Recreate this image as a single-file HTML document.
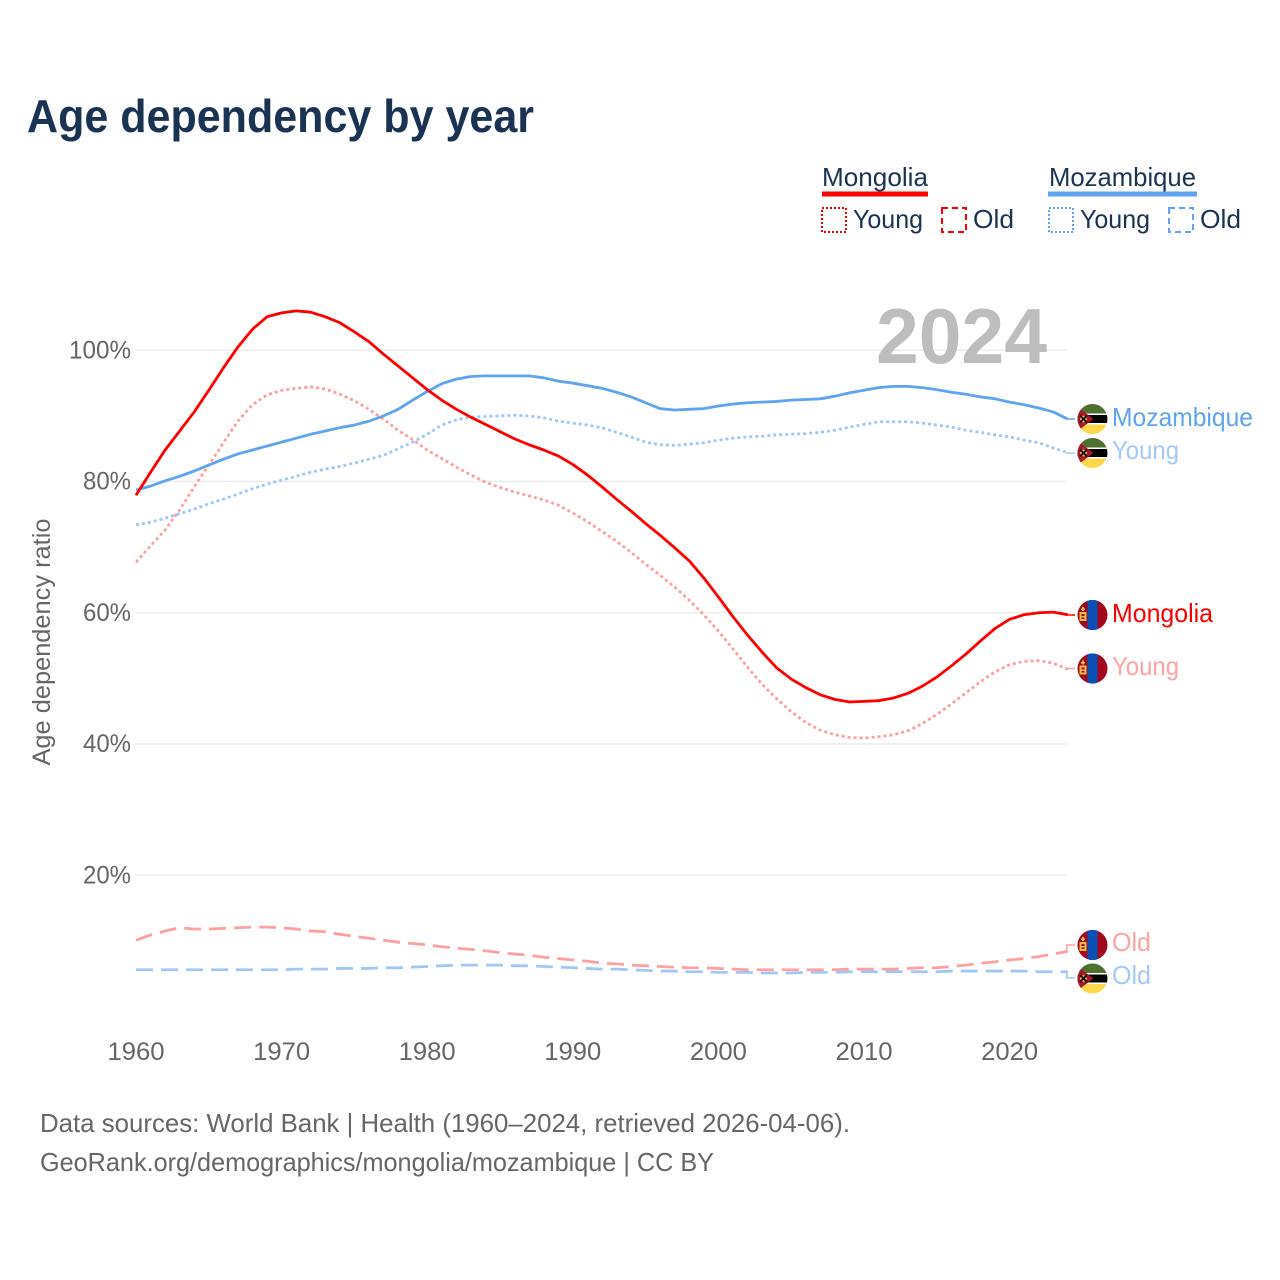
<!DOCTYPE html>
<html lang="en">
<head>
<meta charset="utf-8">
<title>Age dependency by year</title>
<style>
html,body{margin:0;padding:0;background:#fff}
svg{display:block}
text{font-family:"Liberation Sans",sans-serif}
.tick{font-size:25px;fill:#666}
.leg{font-size:26px;fill:#1a3353}
.foot{font-size:26px;fill:#666}
.lab{font-size:26px}
</style>
</head>
<body>
<svg id="chart" width="1280" height="1280" viewBox="0 0 1280 1280" xmlns="http://www.w3.org/2000/svg">
<defs>
<clipPath id="flagClip"><circle cx="0" cy="0" r="15"/></clipPath>
<symbol id="flag-mn" overflow="visible">
<g clip-path="url(#flagClip)">
<rect x="-15" y="-15" width="30" height="30" fill="#a0081f"/>
<rect x="-5" y="-15" width="10" height="30" fill="#0a50b4"/>
<rect x="-13" y="-3" width="7" height="9" fill="#f0bc40"/>
<rect x="-11" y="-1" width="3" height="2" fill="#a0081f"/>
<rect x="-11" y="2.5" width="3" height="1.5" fill="#a0081f"/>
<rect x="-10.5" y="-8" width="2" height="4" fill="#f0bc40"/>
<rect x="-11.5" y="-6.5" width="4" height="1.5" fill="#f0bc40"/>
</g>
</symbol>
<symbol id="flag-mz" overflow="visible">
<g clip-path="url(#flagClip)">
<rect x="-15" y="-15" width="30" height="9.5" fill="#4d7030"/>
<rect x="-15" y="-5.5" width="30" height="1.5" fill="#fff"/>
<rect x="-15" y="-4" width="30" height="8" fill="#000"/>
<rect x="-15" y="4" width="30" height="1.5" fill="#fff"/>
<rect x="-15" y="5.5" width="30" height="9.5" fill="#fcd84a"/>
<polygon points="-15,-12 1,0 -15,12" fill="#a8182a"/>
<circle cx="-9" cy="0" r="3.4" fill="#e8b840"/>
<path d="M-12.5-3.5L-5.5 3.5M-5.5-3.5L-12.5 3.5" stroke="#000" stroke-width="1.6"/>
</g>
</symbol>
</defs>

<rect x="0" y="0" width="1280" height="1280" fill="#fff"/>
<text x="27" y="132" font-size="46" font-weight="700" fill="#1a3353" textLength="507" lengthAdjust="spacingAndGlyphs">Age dependency by year</text>

<g>
<text class="leg" x="822" y="186" textLength="106" lengthAdjust="spacingAndGlyphs">Mongolia</text>
<rect x="822" y="191.5" width="106" height="5" fill="#ff0000"/>
<rect x="822" y="208" width="24" height="24" fill="none" stroke="#ff0000" stroke-width="2" stroke-dasharray="2 2"/>
<text class="leg" x="853" y="228" textLength="70" lengthAdjust="spacingAndGlyphs">Young</text>
<rect x="942" y="208" width="24" height="24" fill="none" stroke="#ff0000" stroke-width="2" stroke-dasharray="6 4"/>
<text class="leg" x="973" y="228" textLength="41" lengthAdjust="spacingAndGlyphs">Old</text>
<text class="leg" x="1049" y="186" textLength="147" lengthAdjust="spacingAndGlyphs">Mozambique</text>
<rect x="1048" y="191.5" width="149" height="5" fill="#5fa4ee"/>
<rect x="1049" y="208" width="24" height="24" fill="none" stroke="#5fa4ee" stroke-width="2" stroke-dasharray="2 2"/>
<text class="leg" x="1080" y="228" textLength="70" lengthAdjust="spacingAndGlyphs">Young</text>
<rect x="1169" y="208" width="24" height="24" fill="none" stroke="#5fa4ee" stroke-width="2" stroke-dasharray="6 4"/>
<text class="leg" x="1200" y="228" textLength="41" lengthAdjust="spacingAndGlyphs">Old</text>
</g>

<g id="grid"></g>
<text x="1047" y="363" text-anchor="end" font-size="78" font-weight="700" fill="#bdbdbd" textLength="171" lengthAdjust="spacingAndGlyphs">2024</text>
<g id="yticks"></g>
<g id="xticks"></g>
<text transform="translate(50,642) rotate(-90)" text-anchor="middle" font-size="25" fill="#666" textLength="247" lengthAdjust="spacingAndGlyphs">Age dependency ratio</text>
<g id="series"></g>

<g>
<use href="#flag-mz" x="1092.5" y="419"/>
<text class="lab" x="1112" y="426" fill="#5fa4ee" textLength="141" lengthAdjust="spacingAndGlyphs">Mozambique</text>
<use href="#flag-mz" x="1092.5" y="453"/>
<text class="lab" x="1112" y="459" fill="#a3caf5" textLength="67" lengthAdjust="spacingAndGlyphs">Young</text>
<use href="#flag-mn" x="1092.5" y="615"/>
<text class="lab" x="1112" y="622" fill="#ff0000" textLength="101" lengthAdjust="spacingAndGlyphs">Mongolia</text>
<use href="#flag-mn" x="1092.5" y="668.5"/>
<text class="lab" x="1112" y="675" fill="#ffa3a3" textLength="67" lengthAdjust="spacingAndGlyphs">Young</text>
<use href="#flag-mn" x="1092.5" y="945"/>
<text class="lab" x="1112" y="951" fill="#ffa3a3" textLength="39" lengthAdjust="spacingAndGlyphs">Old</text>
<use href="#flag-mz" x="1092.5" y="978.5"/>
<text class="lab" x="1112" y="984" fill="#a3caf5" textLength="39" lengthAdjust="spacingAndGlyphs">Old</text>
</g>

<text class="foot" x="40" y="1132" textLength="810" lengthAdjust="spacingAndGlyphs">Data sources: World Bank | Health (1960–2024, retrieved 2026-04-06).</text>
<text class="foot" x="40" y="1171" textLength="674" lengthAdjust="spacingAndGlyphs">GeoRank.org/demographics/mongolia/mozambique | CC BY</text>
</svg>

<script>
const firstYear = 1960;
const xTickYears = [1960, 1970, 1980, 1990, 2000, 2010, 2020];
const yTickValues = [20, 40, 60, 80, 100];

const mongoliaTotal = [77.9,81.4,84.8,87.7,90.6,93.9,97.3,100.5,103.2,105.1,105.7,106.0,105.8,105.1,104.2,102.8,101.3,99.4,97.6,95.8,94.0,92.4,91.0,89.8,88.7,87.6,86.5,85.6,84.8,83.9,82.6,81.0,79.2,77.3,75.5,73.6,71.8,69.9,67.9,65.3,62.4,59.4,56.6,54.0,51.6,49.9,48.6,47.5,46.8,46.4,46.5,46.6,47.0,47.7,48.8,50.2,51.9,53.7,55.7,57.6,59.0,59.7,60.0,60.1,59.7];
const mongoliaYoung = [67.7,70.2,72.6,75.7,79.2,82.5,85.9,89.2,91.7,93.2,93.9,94.2,94.4,94.1,93.3,92.3,91.0,89.5,87.8,86.4,84.8,83.5,82.2,81.0,79.9,79.1,78.4,77.8,77.2,76.4,75.2,73.9,72.4,70.9,69.2,67.4,65.7,63.9,61.9,59.7,57.2,54.5,51.7,49.1,46.9,44.9,43.3,42.1,41.4,41.0,40.9,41.1,41.4,42.0,43.1,44.5,46.1,47.8,49.5,51.0,52.1,52.6,52.7,52.3,51.4];
const mongoliaOld = [10.1,10.9,11.5,12.0,11.8,11.8,11.9,12.0,12.1,12.1,12.0,11.8,11.5,11.4,11.0,10.7,10.4,10.1,9.8,9.6,9.4,9.1,8.9,8.7,8.5,8.2,8.0,7.8,7.5,7.3,7.1,6.9,6.6,6.5,6.3,6.2,6.1,6.0,5.9,5.9,5.8,5.7,5.6,5.6,5.6,5.6,5.6,5.6,5.6,5.7,5.7,5.7,5.7,5.8,5.9,5.9,6.1,6.3,6.6,6.8,7.1,7.3,7.6,8.0,8.4];
const mozambiqueTotal = [78.7,79.3,80.1,80.8,81.6,82.5,83.4,84.2,84.8,85.4,86.0,86.6,87.2,87.7,88.2,88.6,89.2,90.0,91.0,92.4,93.7,94.9,95.6,96.0,96.1,96.1,96.1,96.1,95.8,95.3,95.0,94.6,94.2,93.6,92.9,92.0,91.1,90.9,91.0,91.1,91.5,91.8,92.0,92.1,92.2,92.4,92.5,92.6,93.0,93.5,93.9,94.3,94.5,94.5,94.3,94.0,93.6,93.3,92.9,92.6,92.1,91.7,91.2,90.6,89.5];
const mozambiqueYoung = [73.4,73.8,74.4,75.1,75.8,76.6,77.3,78.1,78.9,79.6,80.2,80.8,81.4,81.9,82.3,82.8,83.4,84.0,85.0,86.0,87.2,88.6,89.4,89.8,89.9,90.0,90.1,90.0,89.7,89.2,88.9,88.6,88.2,87.5,86.8,86.0,85.6,85.5,85.7,85.9,86.3,86.6,86.8,86.9,87.1,87.2,87.3,87.5,87.8,88.3,88.7,89.1,89.1,89.1,88.9,88.6,88.3,87.8,87.5,87.1,86.8,86.3,85.9,85.1,84.4];
const mozambiqueOld = [5.6,5.6,5.6,5.6,5.6,5.6,5.6,5.6,5.6,5.6,5.6,5.7,5.7,5.7,5.8,5.8,5.8,5.9,5.9,6.0,6.1,6.2,6.3,6.3,6.3,6.3,6.2,6.2,6.1,6.0,5.9,5.8,5.7,5.7,5.6,5.5,5.4,5.4,5.3,5.3,5.2,5.2,5.2,5.1,5.1,5.1,5.2,5.2,5.2,5.3,5.3,5.3,5.3,5.3,5.3,5.3,5.4,5.4,5.4,5.4,5.4,5.4,5.3,5.3,5.3];

const NS = 'http://www.w3.org/2000/svg';
function xScale(year) { return 136 + (year - 1960) * 14.56; }
function yScale(value) { return 1006.5 - value * 6.5625; }
function make(tag, attrs, parent) {
  const el = document.createElementNS(NS, tag);
  for (const k in attrs) el.setAttribute(k, attrs[k]);
  parent.appendChild(el);
  return el;
}

const gridG = document.getElementById('grid');
const yG = document.getElementById('yticks');
yTickValues.forEach(function (v) {
  const line = make('line', { x1: 135, x2: 1067, y1: yScale(v), y2: yScale(v), stroke: '#ececec', 'stroke-width': 1.5 }, gridG);
  
  
  const t = make('text', { x: 131, y: yScale(v) + 8, 'text-anchor': 'end', class: 'tick', textLength: v === 100 ? 62 : 48, lengthAdjust: 'spacingAndGlyphs' }, yG);
  
  
  t.textContent = v + '%';
});

const xG = document.getElementById('xticks');
xTickYears.forEach(function (yr) {
  const t = make('text', { x: xScale(yr), y: 1060, 'text-anchor': 'middle', class: 'tick', textLength: 57, lengthAdjust: 'spacingAndGlyphs' }, xG);
  
  
  t.textContent = yr;
});

const seriesG = document.getElementById('series');
function drawSeries(values, name, color, dash, labelY) {
  const pts = values.map(function (v, i) {
    return xScale(firstYear + i).toFixed(2) + ',' + yScale(v).toFixed(2);
  });
  const attrs = { points: pts.join(' '), fill: 'none', stroke: color, 'stroke-width': 2.8, 'stroke-linejoin': 'round' };
  if (dash) attrs['stroke-dasharray'] = dash;
  const line = make('polyline', attrs, seriesG);
  
  
  const endX = xScale(firstYear + values.length - 1);
  const endY = yScale(values[values.length - 1]);
  const conn = make('polyline', { points: (endX - 1) + ',' + endY + ' ' + (endX - 1) + ',' + labelY + ' 1075,' + labelY, fill: 'none', stroke: color, 'stroke-width': 1.5 }, seriesG);
  
  
}
const lightRed = '#ffa0a0';
const lightBlue = '#a0c8f4';
drawSeries(mongoliaOld, 'line-mongolia-old', lightRed, '17 8', 945);
drawSeries(mozambiqueOld, 'line-mozambique-old', lightBlue, '17 8', 978);
drawSeries(mongoliaYoung, 'line-mongolia-young', lightRed, '3 3', 668.5);
drawSeries(mozambiqueYoung, 'line-mozambique-young', lightBlue, '3 3', 453);
drawSeries(mozambiqueTotal, 'line-mozambique-total', '#5fa4ee', null, 419);
drawSeries(mongoliaTotal, 'line-mongolia-total', '#ff0000', null, 615);
</script>
</body>
</html>
